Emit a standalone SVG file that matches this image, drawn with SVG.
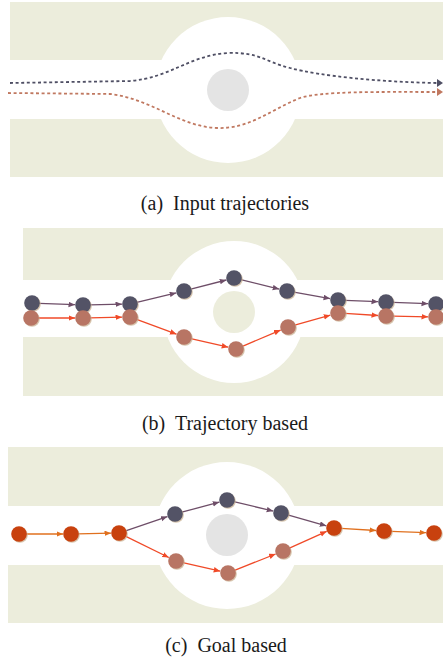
<svg xmlns="http://www.w3.org/2000/svg" width="443" height="664" viewBox="0 0 443 664">
<style>
.bg{fill:#eceddc}
.wh{fill:#ffffff}
.obs{fill:#e4e4e4}
.obsb{fill:#eceddc}
.sh{fill:#c9b291;opacity:0.75}
.nd{fill:#535366}
.nl{fill:#b87564}
.nr{fill:#c8410e}
.ap{stroke:#6e4e68;stroke-width:1.3;fill:none;marker-end:url(#mp)}
.ar{stroke:#f04a28;stroke-width:1.3;fill:none;marker-end:url(#mr)}
.ao{stroke:#e0701e;stroke-width:1.3;fill:none;marker-end:url(#mo)}
.dd{stroke:#4f4f64;stroke-width:1.8;fill:none;stroke-dasharray:3 2.6}
.do{stroke:#c07860;stroke-width:1.8;fill:none;stroke-dasharray:3 2.6}
.cap{font-family:"Liberation Serif","Times New Roman",serif;font-size:20px;fill:#1a1a1a;text-anchor:middle;white-space:pre}
</style>
<defs>
<marker id="mp" markerUnits="userSpaceOnUse" markerWidth="8" markerHeight="6" refX="6.5" refY="2.75" orient="auto"><path d="M0,0 L6.5,2.75 L0,5.5 z" fill="#6e4e68"/></marker>
<marker id="mr" markerUnits="userSpaceOnUse" markerWidth="8" markerHeight="6" refX="6.5" refY="2.75" orient="auto"><path d="M0,0 L6.5,2.75 L0,5.5 z" fill="#f04a28"/></marker>
<marker id="mo" markerUnits="userSpaceOnUse" markerWidth="8" markerHeight="6" refX="6.5" refY="2.75" orient="auto"><path d="M0,0 L6.5,2.75 L0,5.5 z" fill="#e0701e"/></marker>
</defs>
<rect width="443" height="664" fill="#ffffff"/>

<!-- Panel (a) -->
<g id="panel-a">
<rect class="bg" x="10" y="2" width="433" height="175"/>
<rect class="wh" x="10" y="60" width="433" height="59"/>
<circle class="wh" cx="228" cy="90" r="73"/>
<circle id="obstacle-a" class="obs" cx="228" cy="90" r="21"/>
</g>
<g id="connectors-a">
<path class="dd" d="M10,83 L130,81 C170,78 190,55 228,53 C260,52 265,62 290,68 C320,76 380,82 437,83"/>
<path d="M437,79 L443,83 L437,87 z" fill="#4f4f64"/>
<path class="do" d="M8,93 L110,94 C150,98 180,127 217,128 C250,129 270,110 300,98 C320,91 380,92 437,92"/>
<path d="M437,88 L443,92 L437,96 z" fill="#c07860"/>
</g>
<text class="cap" x="225" y="210">(a)  Input trajectories</text>

<!-- Panel (b) -->
<g id="panel-b">
<rect class="bg" x="23" y="228" width="420" height="168"/>
<rect class="wh" x="23" y="280" width="420" height="57"/>
<circle class="wh" cx="234" cy="312" r="71"/>
<circle id="obstacle-b" class="obsb" cx="234" cy="312" r="21"/>
</g>
<g id="connectors-b">
<path class="ap" d="M39,303.3 L75,304.7"/>
<path class="ap" d="M90,304.85 L122,304.2"/>
<path class="ap" d="M136.8,302.4 L176.2,292.9"/>
<path class="ap" d="M190.8,289.2 L226.3,280"/>
<path class="ap" d="M240.8,279.7 L279.2,289.1"/>
<path class="ap" d="M293.9,292.2 L330.1,298.6"/>
<path class="ap" d="M345,300.3 L378,301.7"/>
<path class="ap" d="M393,302.3 L428,303.7"/>
<path class="ar" d="M38,318 L75,318"/>
<path class="ar" d="M90,317.85 L122,317.2"/>
<path class="ar" d="M136.6,319.4 L176.5,334.2"/>
<path class="ar" d="M190.8,338.6 L228.2,347.2"/>
<path class="ar" d="M242.4,346.3 L280.6,330.1"/>
<path class="ar" d="M294.7,325.1 L330.3,315.2"/>
<path class="ar" d="M345,313.4 L378,315.5"/>
<path class="ar" d="M393,316.1 L428,316.8"/>
</g>
<g id="nodes-b-dark">
<circle class="sh" cx="33" cy="304" r="7.8"/><circle class="nd" cx="32" cy="303" r="7.8"/>
<circle class="sh" cx="84" cy="306" r="7.8"/><circle class="nd" cx="83" cy="305" r="7.8"/>
<circle class="sh" cx="131" cy="305" r="7.8"/><circle class="nd" cx="130" cy="304" r="7.8"/>
<circle class="sh" cx="185" cy="292" r="7.8"/><circle class="nd" cx="184" cy="291" r="7.8"/>
<circle class="sh" cx="235" cy="279" r="7.8"/><circle class="nd" cx="234" cy="278" r="7.8"/>
<circle class="sh" cx="288" cy="292" r="7.8"/><circle class="nd" cx="287" cy="291" r="7.8"/>
<circle class="sh" cx="339" cy="301" r="7.8"/><circle class="nd" cx="338" cy="300" r="7.8"/>
<circle class="sh" cx="387" cy="303" r="7.8"/><circle class="nd" cx="386" cy="302" r="7.8"/>
<circle class="sh" cx="437" cy="305" r="7.8"/><circle class="nd" cx="436" cy="304" r="7.8"/>
</g>
<g id="nodes-b-light">
<circle class="sh" cx="32" cy="319" r="7.8"/><circle class="nl" cx="31" cy="318" r="7.8"/>
<circle class="sh" cx="84" cy="319" r="7.8"/><circle class="nl" cx="83" cy="318" r="7.8"/>
<circle class="sh" cx="131" cy="318" r="7.8"/><circle class="nl" cx="130" cy="317" r="7.8"/>
<circle class="sh" cx="185" cy="338" r="7.8"/><circle class="nl" cx="184" cy="337" r="7.8"/>
<circle class="sh" cx="237" cy="350" r="7.8"/><circle class="nl" cx="236" cy="349" r="7.8"/>
<circle class="sh" cx="289" cy="328" r="7.8"/><circle class="nl" cx="288" cy="327" r="7.8"/>
<circle class="sh" cx="339" cy="314" r="7.8"/><circle class="nl" cx="338" cy="313" r="7.8"/>
<circle class="sh" cx="387" cy="317" r="7.8"/><circle class="nl" cx="386" cy="316" r="7.8"/>
<circle class="sh" cx="437" cy="318" r="7.8"/><circle class="nl" cx="436" cy="317" r="7.8"/>
</g>
<text class="cap" x="225" y="430">(b)  Trajectory based</text>

<!-- Panel (c) -->
<g id="panel-c">
<rect class="bg" x="8" y="447" width="435" height="176"/>
<rect class="wh" x="8" y="506" width="435" height="59"/>
<circle class="wh" cx="227" cy="535.5" r="73.5"/>
<circle id="obstacle-c" class="obs" cx="227" cy="535" r="21"/>
</g>
<g id="connectors-c">
<path class="ao" d="M26,534 L63,534"/>
<path class="ao" d="M78,533.9 L111,533.2"/>
<path class="ap" d="M125.6,530.8 L167.4,516.6"/>
<path class="ar" d="M125.3,536.1 L168.8,557.5"/>
<path class="ap" d="M181.8,512.2 L219.3,502.1"/>
<path class="ap" d="M233.8,501.6 L273.2,511.1"/>
<path class="ap" d="M287.7,514.9 L326.3,525.8"/>
<path class="ar" d="M182.8,562.6 L220.2,571.2"/>
<path class="ar" d="M234.5,570.4 L275.6,554"/>
<path class="ar" d="M289.4,548.1 L326.7,531.3"/>
<path class="ao" d="M341,528.4 L376,530.5"/>
<path class="ao" d="M391,531.3 L426,532.7"/>
</g>
<g id="nodes-c">
<circle class="sh" cx="20" cy="535" r="7.8"/><circle class="nr" cx="19" cy="534" r="7.8"/>
<circle class="sh" cx="72" cy="535" r="7.8"/><circle class="nr" cx="71" cy="534" r="7.8"/>
<circle class="sh" cx="120" cy="534" r="7.8"/><circle class="nr" cx="119" cy="533" r="7.8"/>
<circle class="sh" cx="176" cy="515" r="7.8"/><circle class="nd" cx="175" cy="514" r="7.8"/>
<circle class="sh" cx="228" cy="501" r="7.8"/><circle class="nd" cx="227" cy="500" r="7.8"/>
<circle class="sh" cx="282" cy="514" r="7.8"/><circle class="nd" cx="281" cy="513" r="7.8"/>
<circle class="sh" cx="177" cy="562" r="7.8"/><circle class="nl" cx="176" cy="561" r="7.8"/>
<circle class="sh" cx="229" cy="574" r="7.8"/><circle class="nl" cx="228" cy="573" r="7.8"/>
<circle class="sh" cx="284" cy="552" r="7.8"/><circle class="nl" cx="283" cy="551" r="7.8"/>
<circle class="sh" cx="335" cy="529" r="7.8"/><circle class="nr" cx="334" cy="528" r="7.8"/>
<circle class="sh" cx="385" cy="532" r="7.8"/><circle class="nr" cx="384" cy="531" r="7.8"/>
<circle class="sh" cx="435" cy="534" r="7.8"/><circle class="nr" cx="434" cy="533" r="7.8"/>
</g>
<text class="cap" x="226" y="652">(c)  Goal based</text>
</svg>
